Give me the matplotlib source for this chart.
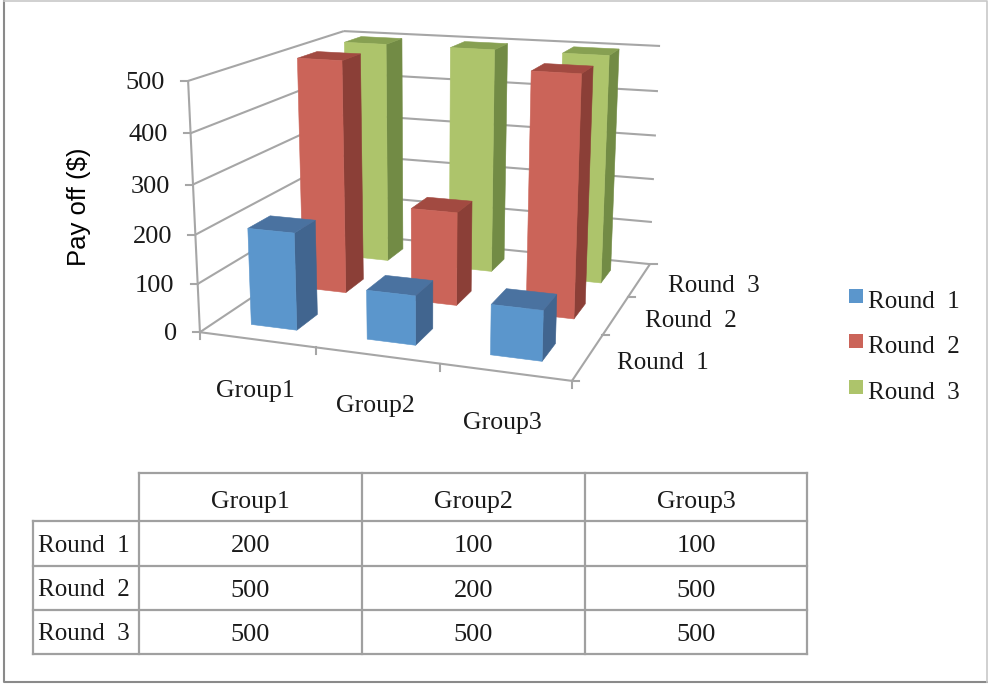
import numpy as np
import matplotlib
matplotlib.use("Agg")
import matplotlib.pyplot as plt
from matplotlib.patches import Polygon, Rectangle

groups = ["Group1", "Group2", "Group3"]
rounds = ["Round 1", "Round 2", "Round 3"]
payoff = [
    [200, 100, 100],
    [500, 200, 500],
    [500, 500, 500],
]
value_ticks = [0, 100, 200, 300, 400, 500]
y_label = "Pay off ($)"

front_colors = ["#5b96cc", "#cb6459", "#adc46b"]
side_colors = ["#41658f", "#8b3f37", "#728b45"]
top_colors = ["#4a72a0", "#a24a41", "#87a052"]
grid_color = "#a6a6a6"
text_color = "#1a1a1a"

serif = "Liberation Serif"
digit_size = 19
group_size = 18.5
round_size = 18
bar_width = 0.40
bar_depth = 0.40

fig = plt.figure(figsize=(9.88, 6.84), dpi=100)
ax = fig.add_axes([0, 0, 1, 1])
ax.set_xlim(0, 988)
ax.set_ylim(684, 0)
ax.axis("off")

# camera for the 3d box: (group, round, height) in 0..1 to canvas position
box_ref = np.array([[0, 0, 0], [1, 0, 0], [1, 1, 0], [0, 1, 0],
                    [0, 0, 1], [0, 1, 1], [1, 1, 1]], dtype=float)
box_pos = np.array([[200, 332], [572, 381], [650, 264], [347, 234],
                    [188, 81], [344, 31], [660, 46]], dtype=float)
rows = []
for (a, b, c), (x, y) in zip(box_ref, box_pos):
    rows.append([a, b, c, 1, 0, 0, 0, 0, -x * a, -x * b, -x * c, -x])
    rows.append([0, 0, 0, 0, a, b, c, 1, -y * a, -y * b, -y * c, -y])
camera = np.linalg.svd(np.array(rows))[2][-1].reshape(3, 4)


def project(u, v, w):
    p = camera @ np.array([u, v, w, 1.0])
    return p[0] / p[2], p[1] / p[2]


def line3d(a, b, lw=1.5):
    (x0, y0), (x1, y1) = project(*a), project(*b)
    ax.plot([x0, x1], [y0, y1], color=grid_color, lw=lw, solid_capstyle="butt", zorder=1)


def face(corners, color):
    ax.add_patch(Polygon([project(*c) for c in corners], closed=True, facecolor=color,
                         edgecolor=color, lw=0.4, zorder=3))


vmax = max(value_ticks)
n_groups = len(groups)
n_rounds = len(rounds)

# walls and floor edges
for t in value_ticks:
    w = t / vmax
    line3d((0, 0, w), (0, 1, w))
    line3d((0, 1, w), (1, 1, w))
    x, y = project(0, 0, w)
    ax.plot([x - 7, x], [y, y], color=grid_color, lw=1.5, zorder=1)
    ax.text(x - 23, y + 2, str(t), ha="right", va="center", family=serif,
            fontsize=digit_size, color=text_color)
line3d((0, 0, 0), (0, 0, 1))
line3d((0, 0, 0), (1, 0, 0))
line3d((1, 0, 0), (1, 1, 0))

for i in range(n_groups + 1):
    x, y = project(i / n_groups, 0, 0)
    ax.plot([x, x], [y, y + 7], color=grid_color, lw=1.5, zorder=1)
for j in range(n_rounds + 1):
    x, y = project(1, j / n_rounds, 0)
    ax.plot([x, x + 7], [y, y], color=grid_color, lw=1.5, zorder=1)

for i, name in enumerate(groups):
    x, y = project((i + 0.5) / n_groups, 0, 0)
    ax.text(x - 2, y + 51, name, ha="center", va="center", family=serif,
            fontsize=group_size, color=text_color)
for j, name in enumerate(rounds):
    x, y = project(1, (j + 0.5) / n_rounds, 0)
    ax.text(x + 29, y + 6, name.replace(" ", "  "), ha="left", va="center", family=serif,
            fontsize=round_size, color=text_color)

# columns, painted from the back row to the front row
for j in reversed(range(n_rounds)):
    for i in range(n_groups):
        u0 = (i + 0.5 - bar_width / 2) / n_groups
        u1 = (i + 0.5 + bar_width / 2) / n_groups
        v0 = (j + 0.5 - bar_depth / 2) / n_rounds
        v1 = (j + 0.5 + bar_depth / 2) / n_rounds
        w = payoff[j][i] / vmax
        face([(u1, v0, 0), (u1, v1, 0), (u1, v1, w), (u1, v0, w)], side_colors[j])
        face([(u0, v0, w), (u1, v0, w), (u1, v1, w), (u0, v1, w)], top_colors[j])
        face([(u0, v0, 0), (u1, v0, 0), (u1, v0, w), (u0, v0, w)], front_colors[j])

ax.text(79, 207, y_label, rotation=90, ha="center", va="center",
        family="Liberation Sans", fontsize=18.5, color="black")

# legend
legend_y = [296, 341, 387]
for name, color, y in zip(rounds, front_colors, legend_y):
    ax.add_patch(Rectangle((849, y - 7), 14, 14, facecolor=color, edgecolor="none"))
    ax.text(868, y + 6, name.replace(" ", "  "), ha="left", va="center", family=serif,
            fontsize=round_size, color=text_color)

# data table under the chart
col_x = [33, 139, 362, 585, 807]
row_y = [473, 521, 566, 610, 654]
table_color = "#a0a0a0"
for y in row_y[1:]:
    ax.plot([col_x[0], col_x[-1]], [y, y], color=table_color, lw=1.6)
ax.plot([col_x[1], col_x[-1]], [row_y[0], row_y[0]], color=table_color, lw=1.6)
ax.plot([col_x[0], col_x[0]], [row_y[1], row_y[-1]], color=table_color, lw=1.6)
for x in col_x[1:]:
    ax.plot([x, x], [row_y[0], row_y[-1]], color=table_color, lw=1.6)

for i, name in enumerate(groups):
    ax.text((col_x[i + 1] + col_x[i + 2]) / 2, (row_y[0] + row_y[1]) / 2 + 5, name,
            ha="center", va="center", family=serif, fontsize=group_size, color=text_color)
for j, name in enumerate(rounds):
    yc = (row_y[j + 1] + row_y[j + 2]) / 2
    ax.text(38, yc + 2, name.replace(" ", "  "), ha="left", va="center", family=serif,
            fontsize=round_size, color=text_color)
    for i in range(n_groups):
        ax.text((col_x[i + 1] + col_x[i + 2]) / 2, yc + 3, str(payoff[j][i]), ha="center",
                va="center", family=serif, fontsize=digit_size, color=text_color)

# chart area border
ax.plot([3.5, 3.5, 987], [0.5, 682, 682], color="#8a8a8a", lw=1.5)
ax.plot([3.5, 987, 987], [0.5, 0.5, 682], color="#c8c8c8", lw=1.2)

fig.savefig("out.png", dpi=100)
